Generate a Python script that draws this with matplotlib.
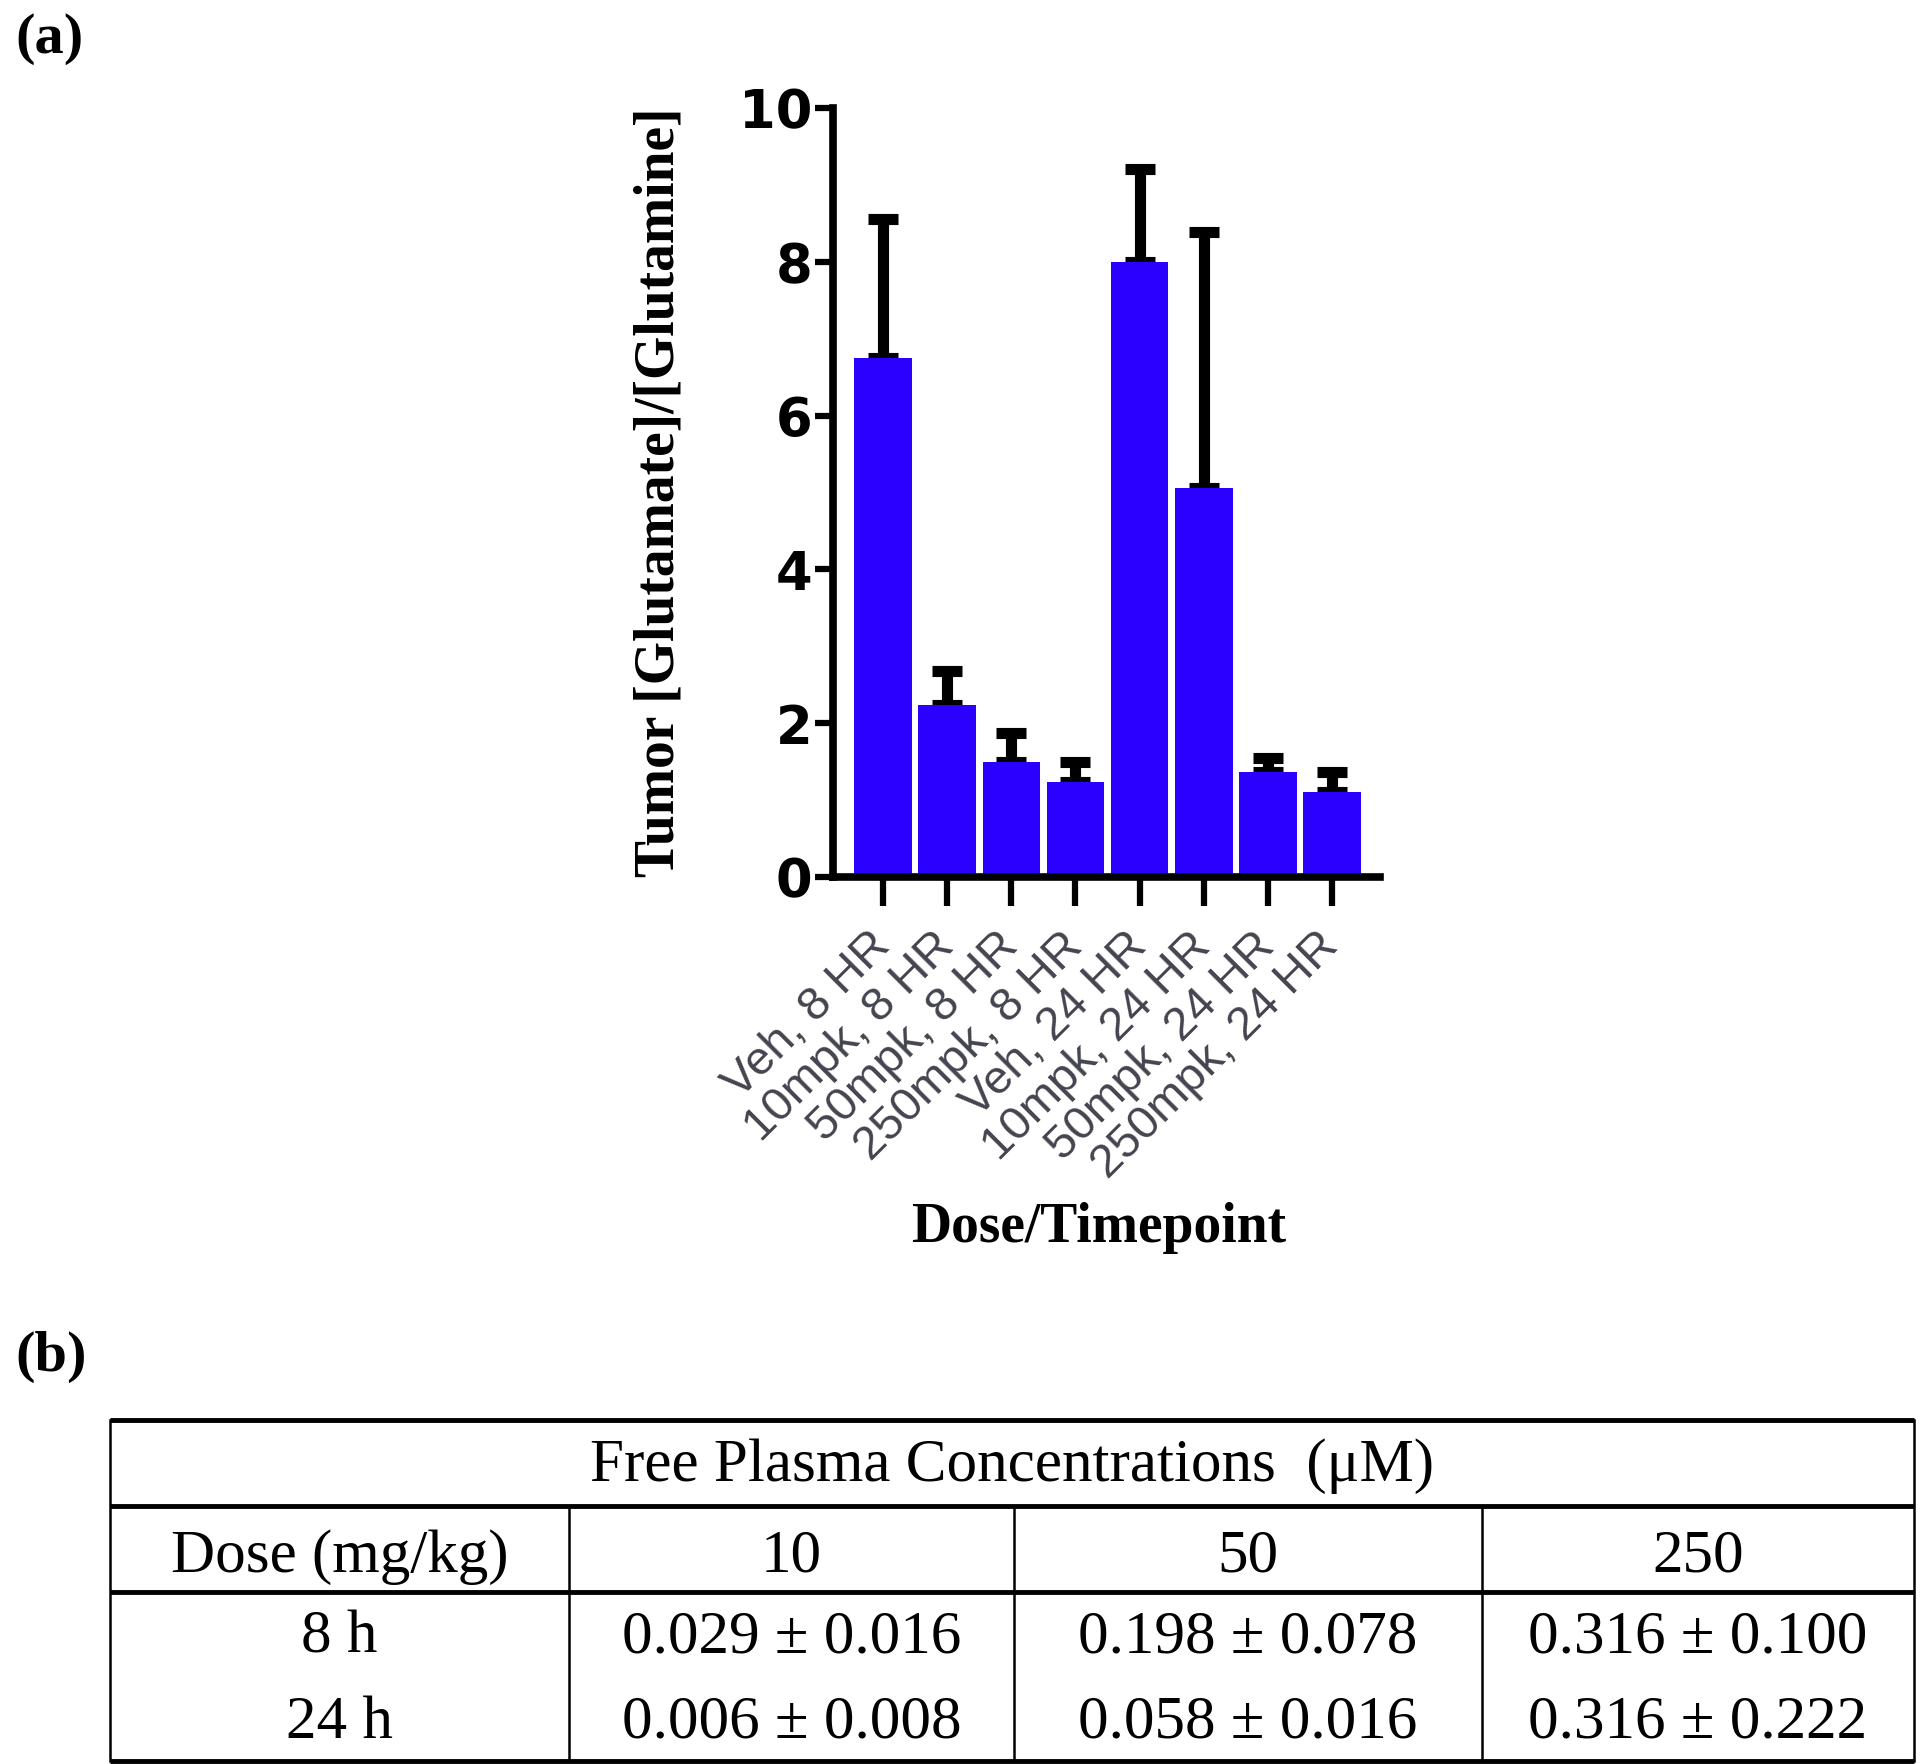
import matplotlib.pyplot as plt
import numpy as np

BAR_COLOR = '#2b00ff'

groups = [
    'Veh, 8 HR',
    '10mpk, 8 HR',
    '50mpk, 8 HR',
    '250mpk, 8 HR',
    'Veh, 24 HR',
    '10mpk, 24 HR',
    '50mpk, 24 HR',
    '250mpk, 24 HR'
]
ratio = [6.75, 2.24, 1.49, 1.24, 8.0, 5.06, 1.37, 1.11]
ratio_err = [1.80, 0.44, 0.38, 0.25, 1.20, 3.33, 0.18, 0.25]

table_title = 'Free Plasma Concentrations  (\u03bcM)'
table_header = ['Dose (mg/kg)', '10', '50', '250']
table_rows = [
    ['8 h', '0.029 \u00b1 0.016', '0.198 \u00b1 0.078', '0.316 \u00b1 0.100'],
    ['24 h', '0.006 \u00b1 0.008', '0.058 \u00b1 0.016', '0.316 \u00b1 0.222'],
]

fig = plt.figure(figsize=(19.2, 17.64), dpi=100)

# ---- (a) bar chart
ax = fig.add_axes([0.4339, 0.5028, 0.2849, 0.4360])
x = np.arange(len(groups))
ax.bar(x, ratio, width=0.9, color=BAR_COLOR, zorder=2)
ax.errorbar(
    x, ratio,
    yerr=[np.zeros(len(ratio)), ratio_err],
    fmt='none',
    ecolor='black',
    elinewidth=8,
    capsize=11,
    capthick=8,
    zorder=1
)

ax.set_xlim(-0.78, 7.75)
ax.set_ylim(0, 10)
ax.set_yticks([0, 2, 4, 6, 8, 10])
ax.set_xticks(x)
ax.set_xticklabels(
    groups,
    rotation=45,
    ha='right',
    va='center',
    rotation_mode='anchor',
    fontsize=34,
    family='Liberation Sans',
    color='#44444f'
)
for lab in ax.get_yticklabels():
    lab.set_fontfamily('DejaVu Sans')
    lab.set_fontweight('bold')
    lab.set_fontsize(38)

for side in ['top', 'right']:
    ax.spines[side].set_visible(False)
for side in ['left', 'bottom']:
    ax.spines[side].set_linewidth(5.5)

ax.tick_params(axis='y', direction='out', length=13, width=4.5, pad=2)
ax.tick_params(axis='x', direction='out', length=21, width=4.5, pad=24)

ax.set_ylabel(
    'Tumor [Glutamate]/[Glutamine]',
    fontsize=40,
    fontweight='bold',
    family='Liberation Serif'
)
ax.yaxis.set_label_coords(-0.27, 0.5)
ax.set_xlabel(
    'Dose/Timepoint',
    fontsize=40,
    fontweight='bold',
    family='Liberation Serif',
    va='center'
)
ax.xaxis.set_label_coords(0.485, -0.456)

fig.text(15 / 1920, 1 - 39 / 1764, '(a)', fontsize=42, fontweight='bold',
         family='Liberation Serif', va='center', ha='left')
fig.text(15 / 1920, 1 - 1357 / 1764, '(b)', fontsize=42, fontweight='bold',
         family='Liberation Serif', va='center', ha='left')

# ---- (b) table, drawn in pixel coordinates
tx = fig.add_axes([0, 0, 1, 1], zorder=-1)
tx.set_xlim(0, 1920)
tx.set_ylim(1764, 0)
tx.axis('off')

col_edges = [110, 569, 1014, 1482, 1914]
row_lines = [1420, 1506, 1592, 1761]
left, right = col_edges[0], col_edges[-1]

for y in row_lines:
    tx.plot([left, right], [y, y], color='black', linewidth=3.5,
            solid_capstyle='butt')
tx.plot([left, left], [row_lines[0], row_lines[-1]], color='black', linewidth=1.8)
tx.plot([right, right], [row_lines[0], row_lines[-1]], color='black', linewidth=1.8)
for cx in col_edges[1:-1]:
    tx.plot([cx, cx], [row_lines[1], row_lines[-1]], color='black', linewidth=1.8)

tfont = dict(fontsize=44, family='Liberation Serif', ha='center', va='center')
tx.text((left + right) / 2, 1466, table_title, **tfont)
centers = [(a + b) / 2 for a, b in zip(col_edges[:-1], col_edges[1:])]
for cx, s in zip(centers, table_header):
    tx.text(cx, 1557, s, **tfont)
for ry, row in zip([1638, 1723], table_rows):
    for cx, s in zip(centers, row):
        tx.text(cx, ry, s, **tfont)

fig.savefig('out.png', dpi=100)
